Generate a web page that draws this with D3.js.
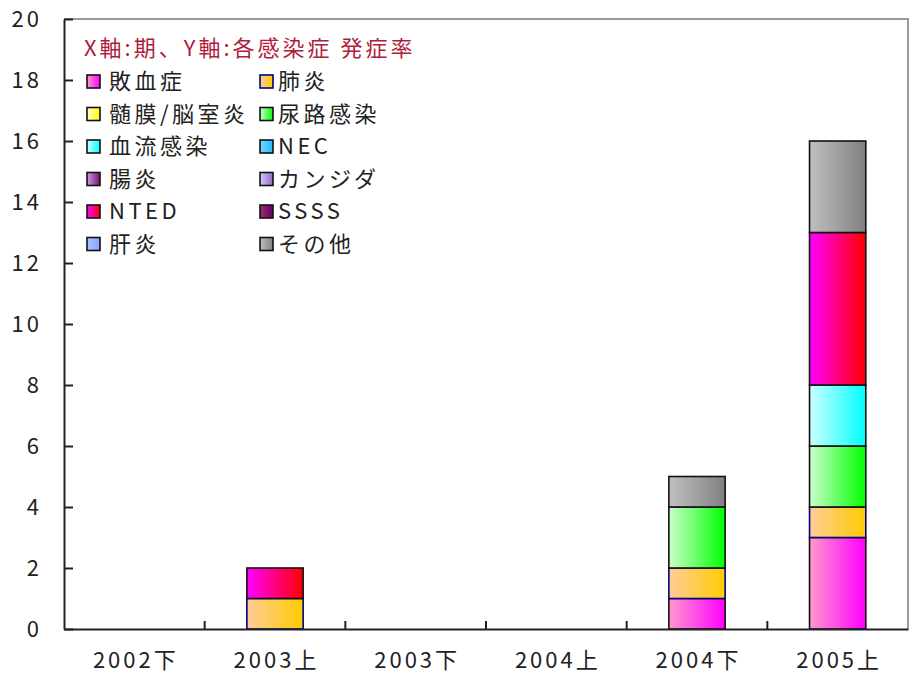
<!DOCTYPE html>
<html>
<head>
<meta charset="utf-8">
<script src="https://cdn.jsdelivr.net/npm/d3@7"></script>
<style>
  body { margin: 0; background: #fff; }
  text { font-family: "Noto Sans CJK JP", "DejaVu Sans", sans-serif; }
</style>
</head>
<body>
<div id="chart"></div>
<script>
// periods on the x axis
var periods = ["2002下", "2003上", "2003下", "2004上", "2004下", "2005上"];

// infection types, bottom of stack first
var types = ["敗血症", "肺炎", "髄膜/脳室炎", "尿路感染", "血流感染", "NEC",
  "腸炎", "カンジダ", "NTED", "SSSS", "肝炎", "その他"];

// counts per period for each type
var sepsis     = [0, 0, 0, 0, 1, 3];
var pneumonia  = [0, 1, 0, 0, 1, 1];
var meningitis = [0, 0, 0, 0, 0, 0];
var urinary    = [0, 0, 0, 0, 2, 2];
var bloodflow  = [0, 0, 0, 0, 0, 2];
var nec        = [0, 0, 0, 0, 0, 0];
var enteritis  = [0, 0, 0, 0, 0, 0];
var candida    = [0, 0, 0, 0, 0, 0];
var nted       = [0, 1, 0, 0, 0, 5];
var ssss       = [0, 0, 0, 0, 0, 0];
var hepatitis  = [0, 0, 0, 0, 0, 0];
var other      = [0, 0, 0, 0, 1, 3];

var yTicks = [0, 2, 4, 6, 8, 10, 12, 14, 16, 18, 20];
var legendTitle = "X軸:期、Y軸:各感染症 発症率";

var series = [sepsis, pneumonia, meningitis, urinary, bloodflow, nec,
  enteritis, candida, nted, ssss, hepatitis, other];

// gradient start/end colours per type
var gradStart = ["#ff99cc", "#ffcc99", "#ffffcc", "#ccffcc", "#ccffff", "#77d4ff",
  "#cc99ee", "#ccccff", "#ff00ff", "#993366", "#99ccff", "#c0c0c0"];
var gradEnd = ["#ff00ff", "#ffcc00", "#ffff00", "#00ff00", "#00ffff", "#22bbff",
  "#771166", "#9966bb", "#ff0000", "#660066", "#9999ff", "#808080"];

var W = 914, H = 697;
var margin = { top: 19, right: 6, bottom: 68, left: 64 };
var width = W - margin.left - margin.right,
  height = H - margin.top - margin.bottom;

var svg = d3.select("#chart").append("svg")
  .attr("width", W)
  .attr("height", H);

// gradients
var defs = svg.append("defs");
types.forEach(function (t, i) {
  var g = defs.append("linearGradient")
    .attr("id", "grad" + i)
    .attr("x1", "0%").attr("x2", "100%")
    .attr("y1", "0%").attr("y2", "0%");
  g.append("stop").attr("offset", "0%").attr("stop-color", gradStart[i]);
  g.append("stop").attr("offset", "100%").attr("stop-color", gradEnd[i]);
});

var g = svg.append("g")
  .attr("transform", "translate(" + margin.left + "," + margin.top + ")");

var x = d3.scaleBand().domain(periods).range([0, width]).padding(0);
var y = d3.scaleLinear().domain([0, 20]).range([height, 0]);

// plot area border (grey top/right)
g.append("path")
  .attr("d", "M0,0H" + width + "V" + height)
  .attr("fill", "none")
  .attr("stroke", "#9a9a9a")
  .attr("stroke-width", 2);

// stack data
var rows = periods.map(function (p, j) {
  var r = { period: p };
  types.forEach(function (t, i) { r[t] = series[i][j]; });
  return r;
});
var stack = d3.stack().keys(types)(rows);

var barW = x.bandwidth() * 0.4;

var layer = g.selectAll(".layer")
  .data(stack)
  .enter().append("g")
  .attr("class", "layer")
  .attr("fill", function (d, i) { return "url(#grad" + i + ")"; })
  .attr("stroke", function (d) { return d.key === "肺炎" ? "#000080" : "#111"; });

layer.selectAll("rect")
  .data(function (d) { return d.filter(function (v) { return v[1] > v[0]; }); })
  .enter().append("rect")
  .attr("x", function (d) { return x(d.data.period) + (x.bandwidth() - barW) / 2; })
  .attr("y", function (d) { return y(d[1]); })
  .attr("width", barW)
  .attr("height", function (d) { return y(d[0]) - y(d[1]); })
  .attr("stroke-width", 1.6);

// y axis
var yAxis = g.append("g")
  .call(d3.axisLeft(y).tickValues(yTicks).tickSize(-9).tickPadding(22).tickSizeOuter(0));
yAxis.select(".domain").attr("stroke", "#222").attr("stroke-width", 2);
yAxis.selectAll(".tick line").attr("stroke", "#222").attr("stroke-width", 2);
yAxis.selectAll("text")
  .style("font-size", "22px")
  .attr("letter-spacing", "3px")
  .attr("fill", "#222");

// x axis labels
var xAxis = g.append("g")
  .attr("transform", "translate(0," + height + ")")
  .call(d3.axisBottom(x).tickSize(0).tickPadding(23));
xAxis.select(".domain").attr("stroke", "#222").attr("stroke-width", 2);
xAxis.selectAll("text")
  .style("font-size", "22px")
  .attr("letter-spacing", "3px")
  .attr("dx", "1.5px")
  .attr("fill", "#222");

// category boundary ticks
g.append("g").selectAll("line")
  .data(periods.slice(1))
  .enter().append("line")
  .attr("x1", function (d) { return x(d); })
  .attr("x2", function (d) { return x(d); })
  .attr("y1", height)
  .attr("y2", height - 8)
  .attr("stroke", "#222")
  .attr("stroke-width", 2);

// legend
var legend = svg.append("g");
legend.append("text")
  .attr("x", 84)
  .attr("y", 56)
  .attr("fill", "#b01c3c")
  .style("font-size", "22px")
  .attr("letter-spacing", "3px")
  .text(legendTitle);

var colX = [87, 260], textX = [109, 278];
var item = legend.selectAll(".item")
  .data(types)
  .enter().append("g")
  .attr("class", "item")
  .attr("transform", function (d, i) {
    return "translate(0," + (75 + Math.floor(i / 2) * 32.5) + ")";
  });

item.append("rect")
  .attr("x", function (d, i) { return colX[i % 2]; })
  .attr("y", 0)
  .attr("width", 13)
  .attr("height", 13)
  .attr("fill", function (d, i) { return "url(#grad" + i + ")"; })
  .attr("stroke", function (d) { return d === "肺炎" ? "#000080" : "#111"; })
  .attr("stroke-width", 1.6);

item.append("text")
  .attr("x", function (d, i) { return textX[i % 2]; })
  .attr("y", 6.5)
  .attr("dy", "0.36em")
  .style("font-size", "22px")
  .attr("letter-spacing", "3.5px")
  .attr("fill", "#222")
  .text(function (d) { return d; });
</script>
</body>
</html>
